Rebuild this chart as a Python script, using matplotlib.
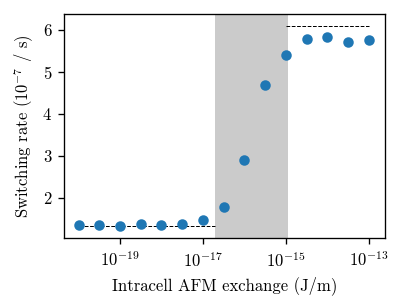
import numpy as np
import matplotlib
matplotlib.use("Agg")
import matplotlib.pyplot as plt

plt.rcParams.update({
    "font.family": "serif",
    "font.serif": ["cmr10"],
    "mathtext.fontset": "cm",
    "axes.formatter.use_mathtext": True,
    "axes.unicode_minus": False,
    "font.size": 10,
})

# intracell AFM exchange (J/m), half-decade steps from 1e-20 to 1e-13
exchange = 10.0 ** np.arange(-20, -12.5, 0.5)
# switching rate in units of 1e-7 / s
rate = [1.36, 1.35, 1.34, 1.38, 1.35, 1.38, 1.48, 1.78, 2.90,
        4.69, 5.39, 5.79, 5.82, 5.71, 5.77]

low_level = 1.33
high_level = 6.08
low_range = [1e-20, 2e-17]
high_range = [1e-15, 1e-13]
transition = [2e-17, 1.1e-15]

dpi = 120
fig = plt.figure(figsize=(407 / dpi, 305 / dpi), dpi=dpi)
ax = fig.add_axes([64 / 407, 1 - 238.3 / 305, 321 / 407, 224 / 305])

ax.axvspan(transition[0], transition[1], color="#cbcbcb", lw=0, zorder=0)
ax.plot(low_range, [low_level, low_level], "k--", lw=0.6, zorder=1)
ax.plot(high_range, [high_level, high_level], "k--", lw=0.6, zorder=1)
ax.scatter(exchange, rate, s=28, color="#1f77b4", zorder=3)

ax.set_xscale("log")
ax.set_xticks([1e-19, 1e-17, 1e-15, 1e-13])
ax.xaxis.set_minor_locator(matplotlib.ticker.NullLocator())
ax.set_xlim(10 ** -20.35, 10 ** -12.61)
ax.set_ylim(1.04, 6.37)
ax.set_yticks([2, 3, 4, 5, 6])

ax.set_xlabel("Intracell AFM exchange (J/m)")
ax.set_ylabel(r"Switching rate ($10^{-7}$ / s)")

fig.savefig("out.png", dpi=dpi)
